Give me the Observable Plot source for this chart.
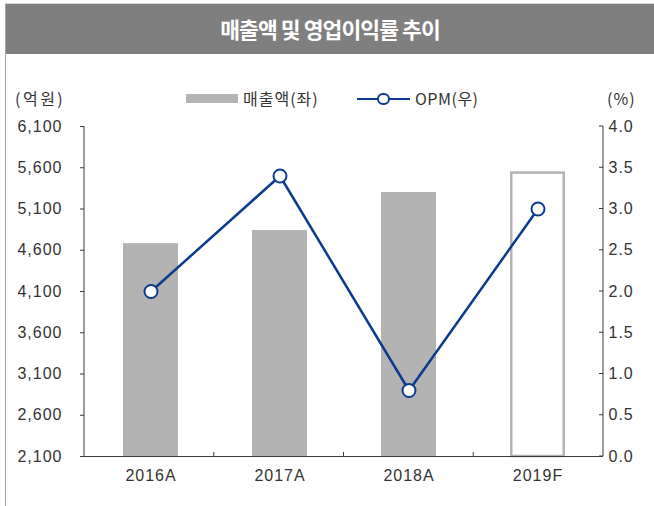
<!DOCTYPE html>
<html><head><meta charset="utf-8">
<script src="https://cdn.jsdelivr.net/npm/d3@7"></script>
<script src="https://cdn.jsdelivr.net/npm/@observablehq/plot@0.6"></script>
<style>
body{margin:0;background:#fff;}
#wrap{position:relative;width:654px;height:506px;overflow:hidden;font-family:"Liberation Sans",Arial,sans-serif;}
#wrap svg{position:absolute;left:0;top:0;}
#frameline{position:absolute;left:5px;top:3px;width:660px;height:520px;border-left:1.5px solid #a6a6a6;border-top:1px solid #d6d6d6;}
#title{position:absolute;left:6px;top:4px;width:648px;height:50px;background:#7f7f7f;color:#fff;font-weight:bold;font-size:21.5px;font-family:"Noto Sans CJK KR",sans-serif;text-align:center;line-height:50px;letter-spacing:-0.9px;}
.lbl{position:absolute;top:86px;font-size:16px;line-height:24px;color:#333;font-family:"Noto Sans CJK KR","Liberation Sans",sans-serif;white-space:nowrap;}
#sw{position:absolute;left:186px;top:94px;width:52px;height:9px;background:#b3b3b3;}
#ln{position:absolute;left:357px;top:97.5px;width:53px;height:2.5px;background:#0b3a8f;}
#lc{position:absolute;left:377px;top:92.5px;border:2px solid #0b3a8f;border-radius:50%;background:#fff;box-sizing:border-box;width:12.5px;height:12.5px;}
</style></head>
<body>
<div id="wrap">
  <div id="chart"></div>
  <div id="frameline"></div>
  <div id="title">매출액 및 영업이익률 추이</div>
  <div class="lbl" style="left:15px;letter-spacing:2.5px">(억원)</div>
  <div id="sw"></div>
  <div class="lbl" style="left:243px;letter-spacing:1px">매출액(좌)</div>
  <div id="ln"></div><div id="lc"></div>
  <div class="lbl" style="left:415px;letter-spacing:0.5px">OPM(우)</div>
  <div class="lbl" style="left:607px;letter-spacing:1px">(%)</div>
</div>
<script>
const years = ["2016A", "2017A", "2018A", "2019F"];
const sales = [4680, 4840, 5300, 5550];
const opm = [2.0, 3.4, 0.8, 3.0];
const isForecast = [false, false, false, true];
const salesTicks = [2100, 2600, 3100, 3600, 4100, 4600, 5100, 5600, 6100];
const opmTicks = [0.0, 0.5, 1.0, 1.5, 2.0, 2.5, 3.0, 3.5, 4.0];

const yMin = salesTicks[0], yMax = salesTicks[salesTicks.length - 1];
const oMin = opmTicks[0], oMax = opmTicks[opmTicks.length - 1];
const toLeft = v => yMin + (v - oMin) * (yMax - yMin) / (oMax - oMin);
const toRight = v => oMin + (v - yMin) * (oMax - oMin) / (yMax - yMin);

const data = years.map((year, i) => ({year, sales: sales[i], opm: opm[i], opmY: toLeft(opm[i]), forecast: isForecast[i]}));
const BLUE = "#0b3a8f", GRAY = "#b3b3b3", AXIS = "#3a3a3a";

const axisLines = (index, scales, values, dims) => {
  const g = d3.create("svg:g");
  const L = dims.marginLeft, R = dims.width - dims.marginRight;
  const T = dims.marginTop, B = dims.height - dims.marginBottom;
  g.append("line").attr("x1", L).attr("x2", L).attr("y1", T).attr("y2", B).attr("stroke", AXIS);
  g.append("line").attr("x1", R).attr("x2", R).attr("y1", T).attr("y2", B).attr("stroke", AXIS);
  for (const t of opmTicks) {
    const y = scales.y(toLeft(t));
    g.append("line").attr("x1", R - 4).attr("x2", R).attr("y1", y).attr("y2", y).attr("stroke", AXIS);
  }
  const step = (R - L) / years.length;
  for (let i = 1; i < years.length; i++) {
    const x = L + step * i;
    g.append("line").attr("x1", x).attr("x2", x).attr("y1", B - 4).attr("y2", B).attr("stroke", AXIS);
  }
  return g.node();
};

const chart = Plot.plot({
  width: 654,
  height: 506,
  marginLeft: 84,
  marginRight: 51,
  marginTop: 126,
  marginBottom: 50,
  style: {background: "transparent", fontSize: "16px", fontFamily: "'Liberation Sans', Arial, sans-serif", color: "#333", letterSpacing: "1px"},
  x: {domain: years, paddingInner: 0.576, paddingOuter: 0.288, label: null},
  y: {domain: [yMin, yMax], label: null},
  marks: [
    Plot.barY(data.filter(d => !d.forecast), {x: "year", y1: yMin, y2: "sales", fill: GRAY}),
    Plot.barY(data.filter(d => d.forecast), {x: "year", y1: yMin, y2: "sales", fill: "white", stroke: GRAY, strokeWidth: 2.5, insetLeft: 1.25, insetRight: 1.25, insetTop: 1.25}),
    Plot.ruleY([yMin], {stroke: AXIS, strokeWidth: 1.2}),
    axisLines,
    Plot.axisY({ticks: salesTicks, tickFormat: d3.format(","), tickSize: 4, tickPadding: 18, stroke: AXIS, label: null}),
    Plot.axisY({anchor: "right", ticks: opmTicks.map(toLeft), tickFormat: d => toRight(d).toFixed(1), tickSize: 0, tickPadding: 5, label: null}),
    Plot.axisX({tickSize: 0, tickPadding: 13, label: null}),
    Plot.line(data, {x: "year", y: "opmY", stroke: BLUE, strokeWidth: 2.5}),
    Plot.dot(data, {x: "year", y: "opmY", r: 6.5, fill: "white", stroke: BLUE, strokeWidth: 2})
  ]
});
document.getElementById("chart").append(chart);
</script>
</body></html>
